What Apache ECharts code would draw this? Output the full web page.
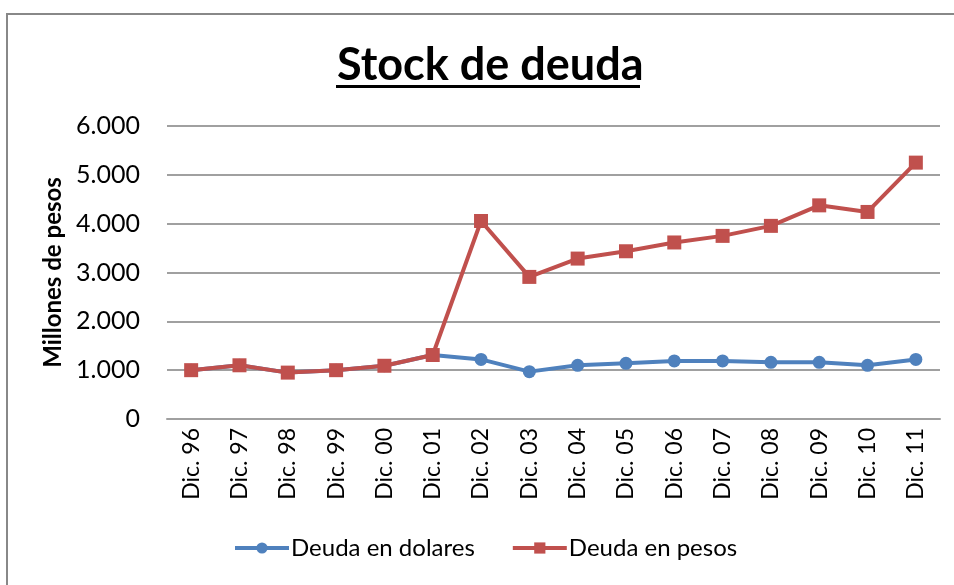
<!DOCTYPE html>
<html>
<head>
<meta charset="utf-8">
<script src="https://cdn.jsdelivr.net/npm/echarts@6/dist/echarts.min.js"></script>
<style>
html,body{margin:0;padding:0;background:#fff;}
#main{width:954px;height:585px;}
</style>
</head>
<body>
<div id="main"></div>
<script>
const categories = ['Dic. 96','Dic. 97','Dic. 98','Dic. 99','Dic. 00','Dic. 01','Dic. 02','Dic. 03','Dic. 04','Dic. 05','Dic. 06','Dic. 07','Dic. 08','Dic. 09','Dic. 10','Dic. 11'];
const deudaDolares = [1000, 1100, 950, 1000, 1090, 1310, 1220, 970, 1100, 1140, 1190, 1190, 1160, 1160, 1100, 1220];
const deudaPesos = [1000, 1100, 950, 1000, 1090, 1310, 4055, 2910, 3285, 3435, 3615, 3750, 3955, 4375, 4240, 5250];
const yTicks = [0, 1000, 2000, 3000, 4000, 5000, 6000];
const titleText = 'Stock de deuda';
const yName = 'Millones de pesos';

const FONT = 'Lato, "Liberation Sans", sans-serif';
const chart = echarts.init(document.getElementById('main'), null, {renderer:'canvas'});
function fmt(v){ return v === 0 ? '0' : (v/1000).toFixed(3); }
chart.setOption({
  animation:false,
  backgroundColor:'#fff',
  title:{
    text:titleText, left:337, top:43, padding:0,
    textStyle:{fontFamily:FONT, fontWeight:'bold', fontSize:45, color:'#000'}
  },
  graphic:[
    {type:'rect', shape:{x:7, y:14, width:960, height:600}, style:{fill:'none', stroke:'#888', lineWidth:2}, silent:true, z:-1},
    {type:'rect', shape:{x:336, y:85, width:304, height:3}, style:{fill:'#000'}, silent:true}
  ],
  legend:{
    top:536, left:233, padding:0, itemGap:36, itemWidth:54, itemHeight:14,
    lineStyle:{width:4},
    textStyle:{fontFamily:FONT, fontSize:24, color:'#000', padding:[0,0,0,-3]},
    data:['Deuda en dolares','Deuda en pesos']
  },
  grid:{left:167, right:14, top:126, bottom:166, containLabel:false},
  xAxis:{
    type:'category', data:categories, boundaryGap:true,
    axisLine:{show:true, lineStyle:{color:'#A0A0A0', width:2}},
    axisTick:{show:false},
    axisLabel:{rotate:90, fontFamily:FONT, fontSize:23, color:'#000', margin:9, interval:0}
  },
  yAxis:{
    type:'value', min:yTicks[0], max:yTicks[yTicks.length-1], interval:1000,
    name:yName, nameLocation:'middle', nameGap:89, nameRotate:90,
    nameTextStyle:{fontFamily:FONT, fontWeight:'bold', fontSize:24, color:'#000'},
    axisLine:{show:false}, axisTick:{show:false},
    axisLabel:{fontFamily:FONT, fontSize:25, color:'#000', margin:27, formatter:fmt},
    splitLine:{lineStyle:{color:'#A0A0A0', width:2}}
  },
  series:[
    {name:'Deuda en dolares', type:'line', data:deudaDolares, symbol:'circle', symbolSize:13,
     itemStyle:{color:'#4F81BD'}, lineStyle:{color:'#4F81BD', width:4}, z:2},
    {name:'Deuda en pesos', type:'line', data:deudaPesos, symbol:'rect', symbolSize:14,
     itemStyle:{color:'#C0504D'}, lineStyle:{color:'#C0504D', width:4}, z:3}
  ]
});
</script>
</body>
</html>
